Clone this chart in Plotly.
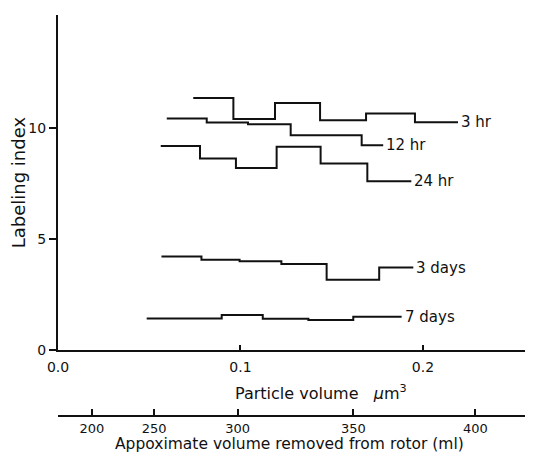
import plotly.graph_objects as go

# Bin edges (particle volume, um^3) and labeling index values per bin
edges_3hr = [0.0741, 0.0961, 0.1189, 0.1436, 0.1688, 0.1956, 0.2192]
vals_3hr = [11.36, 10.42, 11.14, 10.36, 10.66, 10.27]

edges_12hr = [0.0596, 0.0815, 0.1041, 0.1275, 0.1664, 0.1782]
vals_12hr = [10.44, 10.26, 10.18, 9.68, 9.23]

edges_24hr = [0.0563, 0.0778, 0.0975, 0.1198, 0.1439, 0.1695, 0.1936]
vals_24hr = [9.20, 8.64, 8.21, 9.16, 8.41, 7.61]

edges_3d = [0.0567, 0.0786, 0.0995, 0.1224, 0.1472, 0.1760, 0.1947]
vals_3d = [4.22, 4.07, 4.00, 3.88, 3.17, 3.72]

edges_7d = [0.0486, 0.0897, 0.1122, 0.1372, 0.1618, 0.1883]
vals_7d = [1.43, 1.58, 1.42, 1.36, 1.51]

series = [
    ("3 hr", edges_3hr, vals_3hr),
    ("12 hr", edges_12hr, vals_12hr),
    ("24 hr", edges_24hr, vals_24hr),
    ("3 days", edges_3d, vals_3d),
    ("7 days", edges_7d, vals_7d),
]

x_ticks = [0.0, 0.1, 0.2]
x_ticktext = ["0.0", "0.1", "0.2"]
y_ticks = [0, 5, 10]

# Secondary (rotor volume) axis: labels and their positions on the particle-volume scale
rotor_labels = ["200", "250", "300", "350", "400"]
rotor_pos = [0.0186, 0.0527, 0.0984, 0.1619, 0.2287]

FONT = "DejaVu Sans"
INK = "#111111"

fig = go.Figure()
for name, e, v in series:
    fig.add_trace(go.Scatter(
        x=e, y=v + [v[-1]], mode="lines", line=dict(shape="hv", color=INK, width=2),
        name=name, showlegend=False, hoverinfo="skip"))
    fig.add_annotation(x=e[-1], y=v[-1], text=name, showarrow=False, xanchor="left",
                       yanchor="middle", xshift=1, font=dict(family=FONT, size=15, color=INK))

fig.add_trace(go.Scatter(x=rotor_pos, y=[0] * len(rotor_pos), xaxis="x2", mode="markers",
                         marker=dict(opacity=0), showlegend=False, hoverinfo="skip"))

fig.update_layout(
    width=517, height=447,
    margin=dict(l=50, r=0, t=7, b=39, autoexpand=False),
    paper_bgcolor="white", plot_bgcolor="white",
    font=dict(family=FONT, size=14, color=INK),
    xaxis=dict(range=[0, 0.2559], tickvals=x_ticks, ticktext=x_ticktext, ticks="inside",
               ticklen=5, tickwidth=1.5, tickcolor=INK, showline=True, linecolor=INK,
               linewidth=2, showgrid=False, zeroline=False, anchor="y", automargin=False,
               ticklabelstandoff=3, tickfont=dict(size=14)),
    yaxis=dict(range=[0, 15.1], domain=[0.1642, 1], tickvals=y_ticks, ticks="outside",
               ticklen=7, tickwidth=1.5, tickcolor=INK, showline=True, linecolor=INK,
               linewidth=2, showgrid=False, zeroline=False, automargin=False,
               title=dict(text="Labeling index", font=dict(size=18), standoff=6),
               tickfont=dict(size=14)),
    xaxis2=dict(range=[0, 0.2559], overlaying="x", anchor="free", position=0,
                tickvals=rotor_pos, ticktext=rotor_labels, ticks="inside", ticklen=6,
                tickwidth=1.5, tickcolor=INK, showline=True, linecolor=INK, linewidth=2,
                showgrid=False, zeroline=False, automargin=False, tickfont=dict(size=13)),
)

fig.add_annotation(xref="paper", yref="paper", x=0.563, y=0.1642, yshift=-42,
                   text="Particle volume &nbsp;&nbsp;<i>μ</i>m<sup>3</sup>", showarrow=False,
                   xanchor="center", yanchor="middle", font=dict(family=FONT, size=16, color=INK))
fig.add_annotation(xref="paper", yref="paper", x=0.495, y=0, yshift=-39,
                   text="Appoximate volume removed from rotor (ml)", showarrow=False,
                   xanchor="center", yanchor="bottom", font=dict(family=FONT, size=15.5, color=INK))

fig.write_html("out.html")
